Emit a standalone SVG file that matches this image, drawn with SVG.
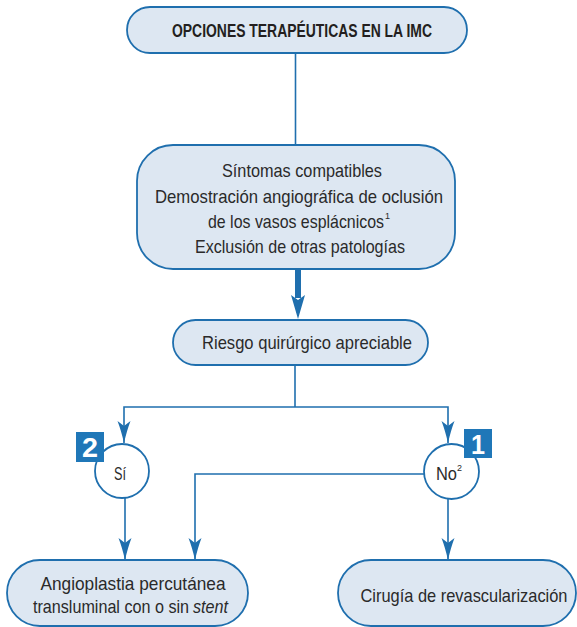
<svg xmlns="http://www.w3.org/2000/svg" width="577" height="627" viewBox="0 0 577 627">
<defs>
<style>
.box{fill:#dde7f2;stroke:#1f6fae;stroke-width:1.8}
.circ{fill:#ffffff;stroke:#1f6fae;stroke-width:1.8}
.ln{fill:none;stroke:#1f6fae;stroke-width:1.6}
.t{font-family:"Liberation Sans",Arial,sans-serif;font-size:18.5px;fill:#2a2a2a}
.m{text-anchor:middle}
.sup{font-family:"Liberation Sans",Arial,sans-serif;font-size:9px;fill:#2a2a2a}
.h{font-family:"Liberation Sans",Arial,sans-serif;font-size:18px;font-weight:bold;fill:#231f20;text-anchor:middle}
.badge{fill:#1f77b8}
.bt{font-family:"Liberation Sans",Arial,sans-serif;font-size:27px;font-weight:bold;fill:#ffffff;text-anchor:middle}
</style>
<marker id="ah" viewBox="0 -7 22 14" refX="22" refY="0" markerWidth="22" markerHeight="14" markerUnits="userSpaceOnUse" orient="auto">
<path d="M0,-6.5 Q9,-3 22,0 Q9,3 0,6.5 L5,0 Z" fill="#1f6fae"/>
</marker>
</defs>

<g id="connectors">
<line class="ln" x1="295.5" y1="53" x2="295.5" y2="145"/>
<line x1="298" y1="269" x2="298" y2="298" stroke="#1f6fae" stroke-width="6"/>
<path d="M291,295 L298,319 L305,295 L298,300 Z" fill="#1f6fae"/>
<path class="ln" d="M295,365 V407"/>
<path class="ln" d="M295,407 H124 V443" marker-end="url(#ah)"/>
<path class="ln" d="M295,407 H448 V443" marker-end="url(#ah)"/>
<path class="ln" d="M125,498 V560" marker-end="url(#ah)"/>
<path class="ln" d="M424,474 H195 V560" marker-end="url(#ah)"/>
<path class="ln" d="M448,499 V560" marker-end="url(#ah)"/>
</g>

<g id="n-title">
<rect class="box" x="127" y="7" width="340" height="46" rx="23"/>
<text class="h" x="302" y="37" textLength="260" lengthAdjust="spacingAndGlyphs">OPCIONES TERAPÉUTICAS EN LA IMC</text>
</g>

<g id="n-criterios">
<rect class="box" x="137" y="145" width="318" height="124" rx="36"/>
<text class="t m" x="302" y="177" textLength="160" lengthAdjust="spacingAndGlyphs">Síntomas compatibles</text>
<text class="t m" x="299" y="203" textLength="288" lengthAdjust="spacingAndGlyphs">Demostración angiográfica de oclusión</text>
<text class="t" x="208" y="228" textLength="176" lengthAdjust="spacingAndGlyphs">de los vasos esplácnicos</text>
<text class="sup" x="385" y="219">1</text>
<text class="t m" x="300" y="253" textLength="210" lengthAdjust="spacingAndGlyphs">Exclusión de otras patologías</text>
</g>

<g id="n-riesgo">
<rect class="box" x="173" y="320" width="255" height="45" rx="22.5"/>
<text class="t m" x="307" y="349" textLength="210" lengthAdjust="spacingAndGlyphs">Riesgo quirúrgico apreciable</text>
</g>

<g id="n-si">
<circle class="circ" cx="122" cy="471" r="27"/>
<text class="t m" x="120" y="480" textLength="12" lengthAdjust="spacingAndGlyphs">Sí</text>
</g>

<g id="n-no">
<circle class="circ" cx="451.5" cy="471.5" r="27.5"/>
<text class="t" x="436" y="480" textLength="21" lengthAdjust="spacingAndGlyphs">No</text>
<text class="sup" x="457" y="471">2</text>
</g>

<g id="badge-2">
<rect class="badge" x="76" y="432" width="28" height="30"/>
<text class="bt" x="90" y="457" textLength="16" lengthAdjust="spacingAndGlyphs">2</text>
</g>

<g id="badge-1">
<rect class="badge" x="464" y="429" width="28" height="29"/>
<text class="bt" x="478" y="454" textLength="14" lengthAdjust="spacingAndGlyphs">1</text>
</g>

<g id="n-angioplastia">
<rect class="box" x="7" y="560" width="241" height="66" rx="33"/>
<text class="t m" x="133" y="590" textLength="185" lengthAdjust="spacingAndGlyphs">Angioplastia  percutánea</text>
<text class="t" x="33" y="613" textLength="156" lengthAdjust="spacingAndGlyphs">transluminal con o sin</text>
<text class="t" x="193" y="613" font-style="italic" textLength="35" lengthAdjust="spacingAndGlyphs">stent</text>
</g>

<g id="n-cirugia">
<rect class="box" x="338" y="560" width="238" height="66" rx="33"/>
<text class="t m" x="464" y="602" textLength="207" lengthAdjust="spacingAndGlyphs">Cirugía de revascularización</text>
</g>
</svg>
